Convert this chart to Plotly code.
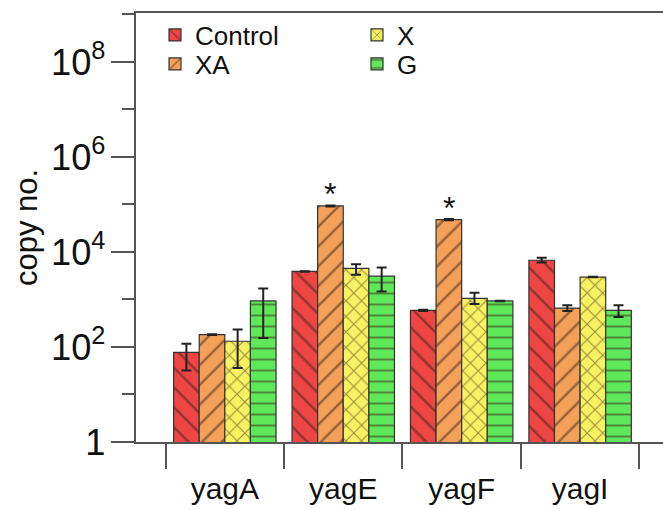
import plotly.graph_objects as go
import numpy as np

categories = ["yagA", "yagE", "yagF", "yagI"]
series_names = ["Control", "XA", "X", "G"]

control = [77, 3900, 590, 6700]
xa = [182, 93000, 48000, 660]
x_vals = [132, 4500, 1050, 2960]
g_vals = [930, 3100, 930, 590]

# error bar ends (upper, lower)
control_hi = [117, 3950, 610, 7600]
control_lo = [32, 3850, 570, 6000]
xa_hi = [186, 95000, 49500, 760]
xa_lo = [178, 91000, 46500, 575]
x_hi = [234, 5500, 1380, 3000]
x_lo = [36, 3300, 800, 2920]
g_hi = [1700, 4700, 945, 760]
g_lo = [155, 1480, 915, 430]

significant = [False, True, True, False]  # asterisk above XA bar

colors = ["#EE4545", "#F4A058", "#F7F262", "#5FE85A"]
pattern_shapes = ["\\", "/", "x", "-"]
pattern_sizes = [14, 14, 11, 11]

FONT = "Liberation Sans, Arial, sans-serif"

fig = go.Figure()
vals = [control, xa, x_vals, g_vals]
his = [control_hi, xa_hi, x_hi, g_hi]
los = [control_lo, xa_lo, x_lo, g_lo]
legend_ids = ["legend", "legend2", "legend3", "legend4"]
xpos = list(range(len(categories)))
for i, name in enumerate(series_names):
    v = np.array(vals[i], float)
    fig.add_trace(go.Bar(
        name=name, x=xpos, y=v,
        marker=dict(color=colors[i], line=dict(color="#333", width=1.2),
                    pattern=dict(shape=pattern_shapes[i], fgcolor="#3a2418",
                                 size=pattern_sizes[i], solidity=0.18)),
        error_y=dict(type="data", symmetric=False,
                     array=np.array(his[i]) - v, arrayminus=v - np.array(los[i]),
                     color="#222", thickness=2, width=5),
        legend=legend_ids[i],
    ))

# asterisks
bar_w = (1 - 0.135) / 4
for k, s in enumerate(significant):
    if s:
        fig.add_annotation(x=k - bar_w / 2, y=np.log10(xa[k]), xref="x", yref="y",
                           text="*", showarrow=False, yanchor="bottom", yshift=-8,
                           font=dict(size=32, color="#111", family=FONT))

L, T, B = 136, 13, 67
W, H = 663, 509
pw, ph = W - L, H - T - B

def px_x(p):
    return (p - L) / pw

def px_y(p):
    return (H - B - p) / ph

leg_common = dict(bgcolor="rgba(0,0,0,0)", font=dict(size=26, family=FONT, color="#111"),
                  xanchor="left", yanchor="middle", itemwidth=30, borderwidth=0)
layout_legends = {
    "legend": dict(x=px_x(155), y=px_y(35), **leg_common),
    "legend2": dict(x=px_x(155), y=px_y(64), **leg_common),
    "legend3": dict(x=px_x(357), y=px_y(35), **leg_common),
    "legend4": dict(x=px_x(357), y=px_y(64), **leg_common),
}

fig.update_layout(
    width=W, height=H,
    margin=dict(l=L, r=0, t=T, b=B, pad=0, autoexpand=False),
    paper_bgcolor="white", plot_bgcolor="white",
    barmode="group", bargap=0.135, bargroupgap=0,
    font=dict(family=FONT, color="#111"),
    showlegend=True,
    **layout_legends,
)

fig.update_xaxes(
    type="linear", range=[-0.75, 3.70], automargin=False,
    tickmode="array", tickvals=xpos, ticktext=categories,
    ticks="", showgrid=False, zeroline=False,
    showline=True, linecolor="#555", linewidth=1.5, mirror=True,
    tickfont=dict(size=30, family=FONT, color="#111"),
    ticklabelstandoff=19,
    minor=dict(tickmode="linear", tick0=-0.5, dtick=1, ticks="outside", ticklen=25,
               tickcolor="#555", tickwidth=1.5, showgrid=False),
)

fig.update_yaxes(
    type="log", range=[0, 9.03], automargin=False,
    tickmode="linear", tick0=0, dtick=2, exponentformat="power",
    ticks="outside", ticklen=23, tickcolor="#555", tickwidth=1.5,
    showgrid=False, zeroline=False,
    showline=True, linecolor="#555", linewidth=1.5,
    tickfont=dict(size=29, family=FONT, color="#111"),
    minor=dict(tickmode="linear", tick0=0, dtick=1, ticks="outside", ticklen=12,
               tickcolor="#555", tickwidth=1.5, showgrid=False),
    title=dict(text="copy no.", font=dict(size=31, family=FONT, color="#111"), standoff=4),
)

fig.write_html("out.html")
